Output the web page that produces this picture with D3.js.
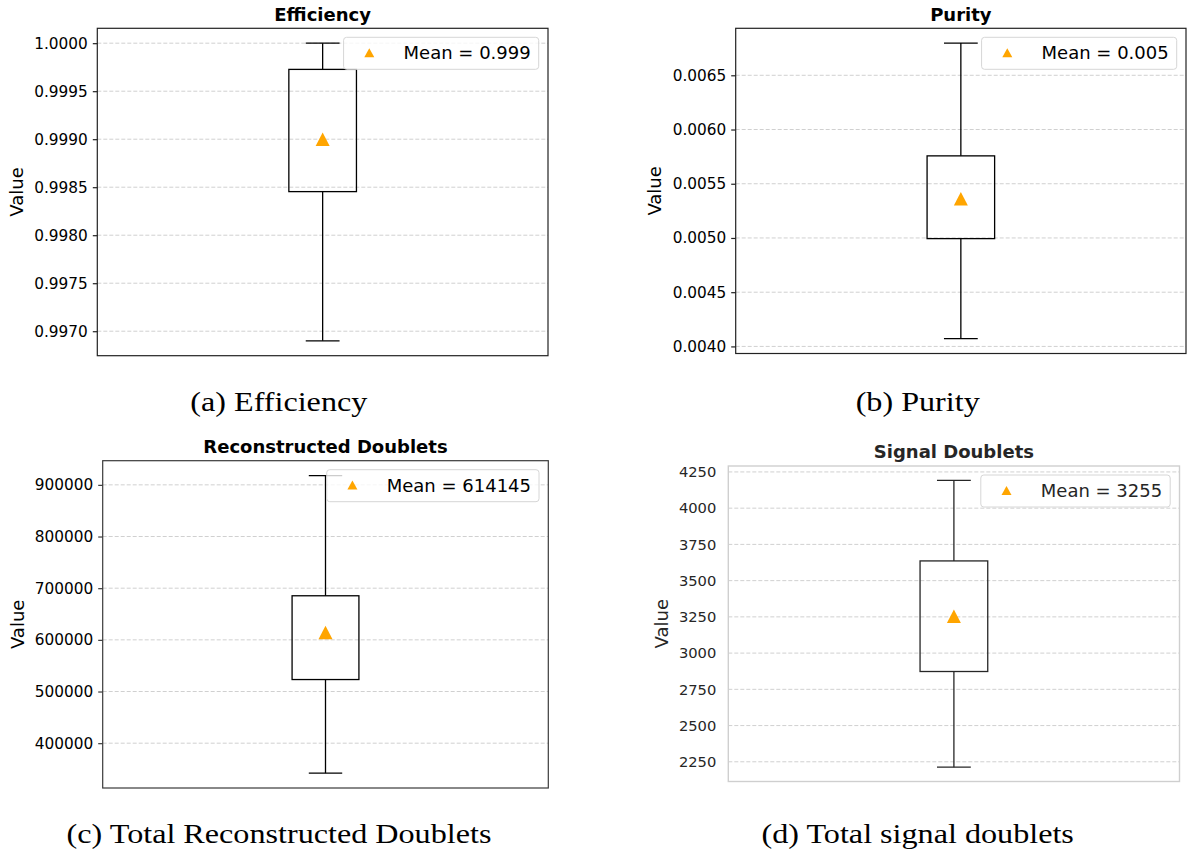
<!DOCTYPE html>
<html>
<head>
<meta charset="utf-8">
<script src="https://cdn.jsdelivr.net/npm/d3@7"></script>
<style>
  html, body { margin: 0; padding: 0; background: #fff; }
  svg { display: block; }
</style>
</head>
<body>
<svg id="chart" width="1188" height="855"></svg>
<script>
// ---------------- DATA ----------------
const titles = ["Efficiency", "Purity", "Reconstructed Doublets", "Signal Doublets"];
const captions = ["(a) Efficiency", "(b) Purity", "(c) Total Reconstructed Doublets", "(d) Total signal doublets"];
const whiskerLow  = [0.99690, 0.004071, 342050, 2213];
const q1          = [0.998454, 0.004994, 523180, 2873];
const q3          = [0.999727, 0.005757, 685320, 3636];
const whiskerHigh = [1.00000, 0.006797, 917960, 4192];
const means       = [0.99900, 0.005362, 614145, 3255];
const meanLabels  = ["0.999", "0.005", "614145", "3255"];
const ticksA = [0.9970, 0.9975, 0.9980, 0.9985, 0.9990, 0.9995, 1.0000];
const ticksB = [0.0040, 0.0045, 0.0050, 0.0055, 0.0060, 0.0065];
const ticksC = [400000, 500000, 600000, 700000, 800000, 900000];
const ticksD = [2250, 2500, 2750, 3000, 3250, 3500, 3750, 4000, 4250];
const tickSets = [ticksA, ticksB, ticksC, ticksD];
const tickFormats = [".4f", ".4f", "d", "d"];

// ---------------- LAYOUT / STYLE ----------------
const frames = [
  {l: 97.3,  r: 548,    t: 28.3,  b: 355.7, capX: 278.8, capY: 410.5},
  {l: 735.7, r: 1186,   t: 28.3,  b: 353.5, capX: 917.7, capY: 410.5},
  {l: 102.7, r: 548.3,  t: 460.7, b: 788,   capX: 279,   capY: 842.5},
  {l: 728.3, r: 1179.5, t: 466,   b: 781.5, capX: 917.7, capY: 842.5}
];
const styles = [
  {spine: "#222", spineW: 1.2, text: "#000", tickLen: 4.5, tickFont: 15.3, tickGap: 9.5, ylabOff: 80.3},
  {spine: "#222", spineW: 1.2, text: "#000", tickLen: 4.5, tickFont: 15.3, tickGap: 9.5, ylabOff: 80.7},
  {spine: "#3a3a3a", spineW: 1.2, text: "#000", tickLen: 4.5, tickFont: 15.3, tickGap: 9.5, ylabOff: 84.7},
  {spine: "#cfcfcf", spineW: 1.4, text: "#262626", tickLen: 0, tickFont: 14.7, tickGap: 12, ylabOff: 66.3}
];
const ORANGE = "#ffa500";
const FONT = "'DejaVu Sans', sans-serif";

const svg = d3.select("#chart");
svg.append("rect").attr("width", 1188).attr("height", 855).attr("fill", "#fff");

function triPath(cx, cy, w, h) {
  const p = d3.path();
  p.moveTo(cx, cy - h / 2);
  p.lineTo(cx + w / 2, cy + h / 2);
  p.lineTo(cx - w / 2, cy + h / 2);
  p.closePath();
  return p.toString();
}

titles.forEach((title, i) => {
  const f = frames[i], s = styles[i];
  const lo = whiskerLow[i], hi = whiskerHigh[i];
  const pad = 0.05 * (hi - lo);
  const y = d3.scaleLinear().domain([lo - pad, hi + pad]).range([f.b, f.t]);
  const x = d3.scaleLinear().domain([0.5, 1.5]).range([f.l, f.r]);
  const g = svg.append("g");

  // grid
  g.append("g").selectAll("line").data(tickSets[i]).join("line")
    .attr("x1", f.l).attr("x2", f.r)
    .attr("y1", d => y(d)).attr("y2", d => y(d))
    .attr("stroke", "#d0d0d0").attr("stroke-width", 1)
    .attr("stroke-dasharray", "4,2");

  // axis
  const axis = d3.axisLeft(y).tickValues(tickSets[i])
    .tickFormat(d3.format(tickFormats[i]))
    .tickSize(s.tickLen).tickPadding(s.tickGap - s.tickLen);
  const ax = g.append("g").attr("transform", `translate(${f.l},0)`).call(axis);
  ax.select(".domain").remove();
  ax.selectAll(".tick line").attr("stroke", s.spine).attr("stroke-width", 1.2);
  ax.selectAll(".tick text").attr("fill", s.text)
    .style("font-family", FONT).style("font-size", s.tickFont + "px");

  // box + whiskers
  const cx = x(1), bw = 0.15, cw = 0.075;
  const lineC = i === 3 ? "#262626" : "#000";
  g.append("line").attr("x1", cx).attr("x2", cx).attr("y1", y(q3[i])).attr("y2", y(whiskerHigh[i]))
    .attr("stroke", lineC).attr("stroke-width", 1.3);
  g.append("line").attr("x1", cx).attr("x2", cx).attr("y1", y(q1[i])).attr("y2", y(whiskerLow[i]))
    .attr("stroke", lineC).attr("stroke-width", 1.3);
  [whiskerHigh[i], whiskerLow[i]].forEach(v => {
    g.append("line").attr("x1", x(1 - cw / 2)).attr("x2", x(1 + cw / 2))
      .attr("y1", y(v)).attr("y2", y(v))
      .attr("stroke", lineC).attr("stroke-width", 1.3);
  });
  g.append("rect")
    .attr("x", x(1 - bw / 2)).attr("width", x(1 + bw / 2) - x(1 - bw / 2))
    .attr("y", y(q3[i])).attr("height", y(q1[i]) - y(q3[i]))
    .attr("fill", "none").attr("stroke", lineC).attr("stroke-width", 1.3);

  // mean marker
  g.append("path").attr("d", triPath(cx, y(means[i]), 14, 13.5)).attr("fill", ORANGE);

  // frame
  g.append("rect").attr("x", f.l).attr("y", f.t).attr("width", f.r - f.l).attr("height", f.b - f.t)
    .attr("fill", "none").attr("stroke", s.spine).attr("stroke-width", s.spineW);

  // legend
  const lg = g.append("g");
  const lgTop = f.t + 9, lgH = 32;
  const txt = lg.append("text").text("Mean = " + meanLabels[i])
    .style("font-family", FONT).style("font-size", "18px").attr("fill", s.text);
  const tw = txt.node().getComputedTextLength();
  const lgW = tw + 68;
  const lgLeft = f.r - 9.3 - lgW;
  lg.insert("rect", "text").attr("x", lgLeft).attr("y", lgTop).attr("width", lgW).attr("height", lgH)
    .attr("rx", 3).attr("ry", 3)
    .attr("fill", "#fff").attr("fill-opacity", 0.8)
    .attr("stroke", "#d6d6d6").attr("stroke-width", 1);
  txt.attr("x", lgLeft + 60).attr("y", lgTop + 22);
  lg.append("path").attr("d", triPath(lgLeft + 25.7, lgTop + 15.4, 10, 9)).attr("fill", ORANGE);

  // title
  svg.append("text").attr("x", (f.l + f.r) / 2).attr("y", f.t - 7.7)
    .attr("text-anchor", "middle").attr("fill", s.text)
    .style("font-family", FONT).style("font-size", "18px").style("font-weight", "bold")
    .text(title);

  // y label
  const ly = (f.t + f.b) / 2, lx = f.l - s.ylabOff;
  svg.append("text").attr("transform", `translate(${lx},${ly}) rotate(-90)`)
    .attr("text-anchor", "middle").attr("dy", "0.35em").attr("fill", s.text)
    .style("font-family", FONT).style("font-size", "18px")
    .text("Value");

  // caption
  svg.append("text").attr("transform", `translate(${f.capX},${f.capY}) scale(1.17,1)`)
    .attr("text-anchor", "middle").attr("fill", "#000")
    .style("font-family", "'Liberation Serif', 'Times New Roman', serif").style("font-size", "27.5px")
    .text(captions[i]);
});
</script>
</body>
</html>
